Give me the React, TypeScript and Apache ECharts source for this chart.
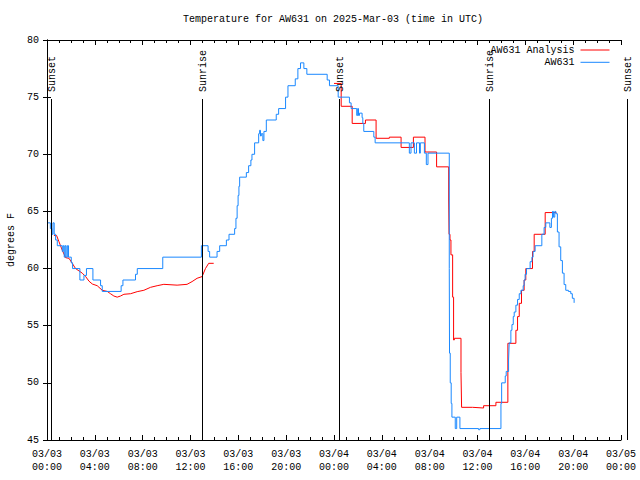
import React, { useEffect, useRef } from 'react';
import * as echarts from 'echarts';

const FONT = '"Liberation Mono", "DejaVu Sans Mono", monospace';
const titleText = 'Temperature for AW631 on 2025-Mar-03 (time in UTC)';
const yAxisTitle = 'degrees F';
const seriesNames = ['AW631 Analysis', 'AW631'];
const startDay = 3; // 2025-03-03 00:00 UTC, hours counted from here

// Sun events (hours from start)
const eventHours = [0.36, 12.97, 24.4, 36.92, 48.48];
const eventLabels = ['Sunset', 'Sunrise', 'Sunset', 'Sunrise', 'Sunset'];

// AW631 observations (change points, hours from start)
const blueHours = [
  0.08, 0.28, 0.42, 0.5, 0.6, 0.72, 0.86, 1.28, 1.36, 1.44, 1.52, 1.6, 1.7, 1.8, 2.03, 2.14,
  2.75, 3.09, 3.3, 3.84, 4.48, 4.62, 6.2, 6.35, 7.4, 7.55, 9.68, 12.91, 13.47, 13.6, 14.22, 14.44,
  15.0, 15.22, 15.69, 15.8, 15.9, 15.98, 16.05, 16.11, 16.67, 16.86, 17.05, 17.14, 17.36, 17.7,
  17.78, 17.85, 17.92, 18.05, 18.14, 18.34, 19.17, 19.37, 19.95, 20.15, 20.76, 20.98, 21.2, 21.48,
  21.73, 23.43, 23.62, 24.35, 25.29, 25.43, 25.9, 25.98, 26.05, 26.13, 26.35, 26.41, 26.49, 27.33,
  27.44, 30.3, 30.44, 30.72, 30.9, 31.15, 31.22, 31.56, 31.72, 31.86, 33.64, 33.66, 33.72, 33.8,
  33.86, 34.14, 34.26, 34.53, 36.09, 36.2, 37.96, 38.02, 38.32, 38.4, 38.6, 38.65, 38.79, 38.88,
  38.99, 39.07, 39.21, 39.35, 39.49, 39.63, 39.82, 39.9, 39.98, 40.1, 40.4, 40.55, 40.65, 40.82,
  41.38, 41.57, 41.71, 42.05, 42.18, 42.27, 42.35, 42.46, 42.55, 42.68, 42.82, 42.96, 43.1, 43.24,
  43.38, 43.6, 43.8, 43.93, 44.08,
];
const blueTemps = [
  64, 63.5, 63, 64, 63, 62.5, 62, 61.5, 62, 61, 62, 61, 62, 61, 60.5, 60,
  59, 59.4, 60, 59, 58.5, 58, 58.5, 59, 59.5, 60, 61, 62, 61.5, 61, 61.5, 62,
  62.5, 63, 63.5, 64.4, 65.5, 66.4, 67.2, 68, 68.4, 69, 69.5, 70, 71, 71.8,
  72.1, 71.6, 71.8, 71.2, 72, 73, 73.5, 74, 75, 76, 76.6, 77.5, 78, 77.5,
  77, 76.5, 76, 75, 74.5, 74, 73.4, 74, 73.4, 73.6, 73.2, 72.7, 72, 71.5,
  71, 70.1, 71, 70.1, 71, 70.1, 71, 70.1, 69.1, 70.1, 60, 52.6, 50, 48.2,
  47, 46, 47, 46, 45.9, 46, 48.2, 50, 50.6, 51, 52, 53.5, 54.6, 55.1,
  55.8, 56.2, 56.8, 57.3, 57.8, 58.1, 58.5, 59, 59.5, 60, 60.6, 61, 61.5, 62,
  63, 63.6, 64, 63.6, 64.4, 65, 64.5, 65, 64.8, 63.2, 61.9, 60.7, 59.6, 58.6,
  58.1, 58, 57.8, 57.4, 57.0,
];

// AW631 Analysis, first (smooth) segment
const redEarlyHours = [
  0.58, 0.8, 1.0, 1.28, 1.56, 1.84, 2.11, 2.39, 2.67, 2.95, 3.23, 3.51, 3.79, 4.2, 4.62, 5.04,
  5.31, 5.59, 5.87, 6.15, 6.43, 6.99, 7.54, 8.1, 8.66, 9.21, 9.77, 10.88, 11.71, 12.13, 12.55,
  12.97, 13.25, 13.52, 13.94,
];
const redEarlyTemps = [
  62.9, 62.9, 62.35, 61.6, 60.95, 60.9, 60.46, 60.0, 59.8, 59.6, 59.3, 58.9, 58.65, 58.5, 58.1, 58.0,
  57.8, 57.6, 57.5, 57.6, 57.75, 57.8, 57.98, 58.1, 58.36, 58.5, 58.62, 58.55, 58.62, 58.86, 59.15,
  59.3, 60.0, 60.46, 60.46,
];
// AW631 Analysis, second (stepped) segment
const redLateHours = [
  24.0, 24.6, 25.52, 26.63, 27.52, 28.63, 29.61, 30.64, 31.61, 32.58, 33.59, 33.62, 33.7, 33.78,
  33.92, 34.0, 34.06, 34.62, 34.67, 35.59, 36.51, 37.54, 38.54, 39.21, 39.35, 39.49, 39.68, 39.9,
  40.04, 40.6, 40.74, 41.66, 42.6,
];
const redLateTemps = [
  76.2, 74.2, 72.7, 73.0, 71.4, 71.5, 70.6, 71.5, 70.2, 68.9, 66, 63, 62.5, 61.2,
  57.5, 53.75, 53.9, 50.9, 47.86, 47.8, 48.0, 48.3, 53.46, 54.6, 55.8, 56.96, 58.1, 59,
  60, 61.5, 63.0, 64.9, 64.9,
];

const RED = '#ff0000';
const BLUE = '#1a88ff';

const zip = (xs: number[], ys: number[]) => xs.map((x, i) => [x, ys[i]]);
const pad = (n: number) => (n < 10 ? '0' + n : '' + n);

export default function App() {
  const ref = useRef<HTMLDivElement>(null);
  useEffect(() => {
    if (!ref.current) return;
    const chart = echarts.init(ref.current, null, { renderer: 'svg' });
    const axisCommon = {
      type: 'value',
      min: 0,
      max: 48,
      interval: 4,
      axisLine: { show: true, lineStyle: { color: '#000', width: 1 } },
      axisTick: { show: true, inside: true, length: 5, lineStyle: { color: '#000' } },
      minorTick: { show: true, splitNumber: 4, length: 3, lineStyle: { color: '#000' } },
      splitLine: { show: false },
      minorSplitLine: { show: false },
    };
    const yCommon = {
      type: 'value',
      min: 45,
      max: 80,
      interval: 5,
      axisLine: { show: true, lineStyle: { color: '#000', width: 1 } },
      axisTick: { show: true, inside: true, length: 4, lineStyle: { color: '#000' } },
      splitLine: { show: false },
    };
    const option: any = {
      animation: false,
      backgroundColor: '#ffffff',
      textStyle: { fontFamily: FONT },
      title: {
        text: titleText,
        left: 183,
        top: 14,
        padding: 0,
        textStyle: { fontFamily: FONT, fontSize: 10, fontWeight: 'normal', color: '#000' },
      },
      legend: {
        data: seriesNames,
        orient: 'vertical',
        align: 'right',
        right: 30,
        top: 45,
        padding: 0,
        itemWidth: 29,
        itemHeight: 10,
        itemGap: 2.3,
        itemStyle: { opacity: 0 },
        lineStyle: { width: 1 },
        textStyle: { fontFamily: FONT, fontSize: 10, color: '#000', lineHeight: 10, padding: [0, 1, 0, 0] },
      },
      grid: { left: 47, right: 19, top: 40, bottom: 40, outerBoundsMode: 'none', containLabel: false },
      xAxis: [
        {
          ...axisCommon,
          position: 'bottom',
          axisLabel: {
            show: true,
            showMinLabel: true,
            showMaxLabel: true,
            margin: 8,
            color: '#000',
            fontFamily: FONT,
            fontSize: 10,
            lineHeight: 13,
            formatter: (v: number) => {
              const d = startDay + Math.floor(v / 24);
              const h = v % 24;
              return `03/${pad(d)}\n${pad(h)}:00`;
            },
          },
        },
        { ...axisCommon, position: 'top', axisLabel: { show: false } },
      ],
      yAxis: [
        {
          ...yCommon,
          position: 'left',
          name: yAxisTitle,
          nameLocation: 'middle',
          nameGap: 30,
          nameTextStyle: { fontFamily: FONT, fontSize: 10, color: '#000' },
          axisLabel: { margin: 8, color: '#000', fontFamily: FONT, fontSize: 10 },
        },
        { ...yCommon, position: 'right', axisLabel: { show: false } },
      ],
      series: [
        {
          name: seriesNames[0],
          type: 'line',
          symbol: 'none',
          xAxisIndex: 0,
          yAxisIndex: 0,
          data: zip(redEarlyHours, redEarlyTemps),
          lineStyle: { color: RED, width: 1 },
          itemStyle: { color: RED },
        },
        {
          name: seriesNames[0],
          type: 'line',
          symbol: 'none',
          step: 'end',
          xAxisIndex: 0,
          yAxisIndex: 0,
          data: zip(redLateHours, redLateTemps),
          lineStyle: { color: RED, width: 1 },
          itemStyle: { color: RED },
        },
        {
          name: seriesNames[1],
          type: 'line',
          symbol: 'none',
          step: 'end',
          xAxisIndex: 0,
          yAxisIndex: 0,
          data: zip(blueHours, blueTemps),
          lineStyle: { color: BLUE, width: 1 },
          itemStyle: { color: BLUE },
        },
      ],
    };
    chart.setOption(option);

    const yBottom = chart.convertToPixel({ yAxisIndex: 0 }, 45) as number;
    const yTop = chart.convertToPixel({ yAxisIndex: 0 }, 80) as number;
    const graphics: any[] = [];
    eventHours.forEach((h, i) => {
      const x = Math.round(chart.convertToPixel({ xAxisIndex: 0 }, h) as number) + 0.5;
      graphics.push({
        type: 'line',
        z: 100,
        shape: { x1: x, y1: yTop + 59, x2: x, y2: yBottom },
        style: { stroke: '#000', lineWidth: 1 },
      });
      graphics.push({
        type: 'text',
        z: 100,
        x: x + 1,
        y: yTop + 52,
        rotation: Math.PI / 2,
        style: {
          text: eventLabels[i],
          font: `10px ${FONT}`,
          fill: '#000',
          textAlign: 'left',
          textVerticalAlign: 'middle',
        },
      });
    });
    chart.setOption({ graphic: graphics });

    return () => chart.dispose();
  }, []);
  return (
    <div
      ref={ref}
      style={{ position: 'fixed', left: 0, top: 0, width: 640, height: 480, background: '#fff' }}
    />
  );
}
